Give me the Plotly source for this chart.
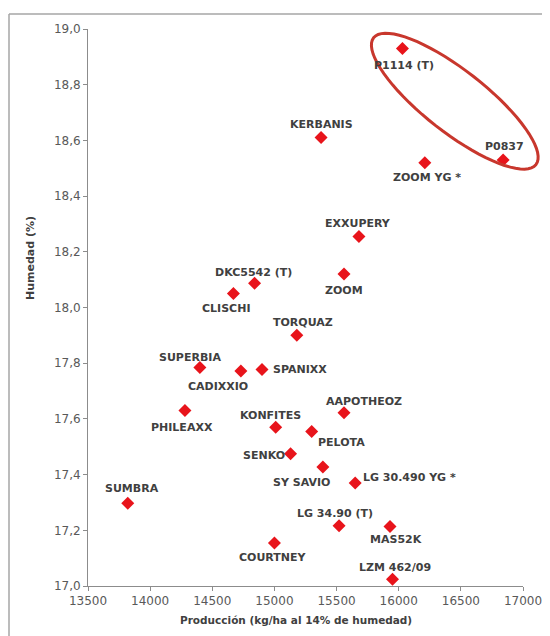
import math
import plotly.graph_objects as go

# ---- data ----
varieties = ["P1114 (T)", "KERBANIS", "ZOOM YG *", "P0837", "EXXUPERY", "ZOOM",
             "DKC5542 (T)", "CLISCHI", "TORQUAZ", "SUPERBIA", "CADIXXIO", "SPANIXX",
             "PHILEAXX", "KONFITES", "AAPOTHEOZ", "PELOTA", "SENKO", "SY SAVIO",
             "LG 30.490 YG *", "SUMBRA", "LG 34.90 (T)", "MAS52K", "COURTNEY", "LZM 462/09"]
produccion = [16030, 15375, 16210, 16840, 15680, 15560,
              14840, 14670, 15180, 14400, 14730, 14900,
              14280, 15010, 15560, 15300, 15130, 15390,
              15650, 13820, 15520, 15930, 15000, 15950]
humedad = [18.93, 18.61, 18.52, 18.53, 18.255, 18.12,
           18.087, 18.05, 17.90, 17.785, 17.772, 17.777,
           17.63, 17.57, 17.622, 17.555, 17.475, 17.427,
           17.37, 17.297, 17.216, 17.214, 17.154, 17.024]
x_ticks = [13500, 14000, 14500, 15000, 15500, 16000, 16500, 17000]
y_ticks = [17.0, 17.2, 17.4, 17.6, 17.8, 18.0, 18.2, 18.4, 18.6, 18.8, 19.0]
highlighted = ["P1114 (T)", "P0837"]

# ---- label placement (pixel offsets: dx, dy-down, anchor) ----
label_style = {
    "P1114 (T)": (2, 17, "center"), "KERBANIS": (0, -13, "center"),
    "ZOOM YG *": (2, 15, "center"), "P0837": (1, -13, "center"),
    "EXXUPERY": (-1, -13, "center"), "ZOOM": (0, 16, "center"),
    "DKC5542 (T)": (-1, -11, "center"), "CLISCHI": (-7, 15, "center"),
    "TORQUAZ": (6, -13, "center"), "SUPERBIA": (-10, -10, "center"),
    "CADIXXIO": (-23, 15, "center"), "SPANIXX": (9, 0, "left"),
    "PHILEAXX": (-3, 17, "center"), "KONFITES": (-5, -12, "center"),
    "AAPOTHEOZ": (20, -11, "center"), "PELOTA": (30, 11, "center"),
    "SENKO": (-4, 2, "right"), "SY SAVIO": (-21, 15, "center"),
    "LG 30.490 YG *": (6, -5, "left"), "SUMBRA": (4, -15, "center"),
    "LG 34.90 (T)": (-4, -12, "center"), "MAS52K": (6, 13, "center"),
    "COURTNEY": (-1, 14, "center"), "LZM 462/09": (2, -12, "center"),
}

OFF = 8  # page body margin of the browser
W, H = 550, 636
PW, PH = 435, 557
ML, MT = 88 - OFF, 29 - OFF
MR, MB = W - ML - PW, H - MT - PH
XR = [13500, 17000]
YR = [17.0, 19.0]
px_per_x = PW / (XR[1] - XR[0])
px_per_y = PH / (YR[1] - YR[0])

FONT = "DejaVu Sans, Liberation Sans, Arial, sans-serif"


def px_to_paper_x(px):
    return (px - 88) / PW


def px_to_paper_y(py):
    return (29 + PH - py) / PH


def data_to_px(xv, yv):
    return 88 + (xv - XR[0]) * px_per_x, 29 + (YR[1] - yv) * px_per_y


fig = go.Figure()
fig.add_trace(go.Scatter(
    x=produccion, y=humedad, mode="markers",
    marker=dict(symbol="diamond", size=10, color="#E8141B", line=dict(width=0)),
    hoverinfo="text", text=varieties, showlegend=False,
))

annotations = []
for name, xv, yv in zip(varieties, produccion, humedad):
    dx, dy, anchor = label_style[name]
    annotations.append(dict(
        x=xv, y=yv, xref="x", yref="y", text=name, showarrow=False,
        xanchor=anchor, yanchor="middle", xshift=dx, yshift=-dy,
        font=dict(family=FONT, size=11, color="#404040", weight="bold"),
    ))

# ellipse around the highlighted points (paper coords so it is not clipped)
p1 = data_to_px(produccion[varieties.index(highlighted[0])], humedad[varieties.index(highlighted[0])])
p2 = data_to_px(produccion[varieties.index(highlighted[1])], humedad[varieties.index(highlighted[1])])
cx, cy = (p1[0] + p2[0]) / 2 + 2, (p1[1] + p2[1]) / 2 - 3
a, b, ang = 103, 31, math.radians(38)
pts = []
for i in range(73):
    t = 2 * math.pi * i / 72
    ex = a * math.cos(t) * math.cos(ang) - b * math.sin(t) * math.sin(ang)
    ey = a * math.cos(t) * math.sin(ang) + b * math.sin(t) * math.cos(ang)
    pts.append((px_to_paper_x(cx + ex), px_to_paper_y(cy + ey)))
path = "M " + " L ".join(f"{p[0]:.5f},{p[1]:.5f}" for p in pts) + " Z"

shapes = [
    dict(type="path", path=path, xref="paper", yref="paper",
         line=dict(color="#C8372D", width=3)),
    # outer chart frame (top and left edges visible)
    dict(type="line", xref="paper", yref="paper",
         x0=px_to_paper_x(9), x1=px_to_paper_x(W + 10),
         y0=px_to_paper_y(14), y1=px_to_paper_y(14),
         line=dict(color="#A6A6A6", width=1.5)),
    dict(type="line", xref="paper", yref="paper",
         x0=px_to_paper_x(9), x1=px_to_paper_x(9),
         y0=px_to_paper_y(14), y1=px_to_paper_y(H + 10),
         line=dict(color="#A6A6A6", width=1.5)),
]

# axis titles
annotations.append(dict(
    x=px_to_paper_x(30), y=px_to_paper_y(258), xref="paper", yref="paper",
    text="Humedad (%)", textangle=-90, showarrow=False,
    xanchor="center", yanchor="middle",
    font=dict(family=FONT, size=11, color="#404040", weight="bold"),
))
annotations.append(dict(
    x=px_to_paper_x(296), y=px_to_paper_y(620), xref="paper", yref="paper",
    text="Producción (kg/ha al 14% de humedad)", showarrow=False,
    xanchor="center", yanchor="middle",
    font=dict(family=FONT, size=10.5, color="#404040", weight="bold"),
))

axis_common = dict(
    showgrid=False, zeroline=False, showline=True, linecolor="#8C8C8C", linewidth=1,
    ticks="outside", ticklen=4, tickcolor="#8C8C8C", tickwidth=1,
    tickfont=dict(family=FONT, size=12, color="#595959"),
)

fig.update_layout(
    width=W, height=H,
    margin=dict(l=ML, r=MR, t=MT, b=MB, pad=0),
    paper_bgcolor="white", plot_bgcolor="white",
    separators=", ",
    xaxis=dict(range=XR, tickvals=x_ticks, tickformat="d", **axis_common),
    yaxis=dict(range=YR, tickvals=y_ticks, tickformat=".1f", **axis_common),
    annotations=annotations, shapes=shapes,
)

fig.write_html("out.html")
